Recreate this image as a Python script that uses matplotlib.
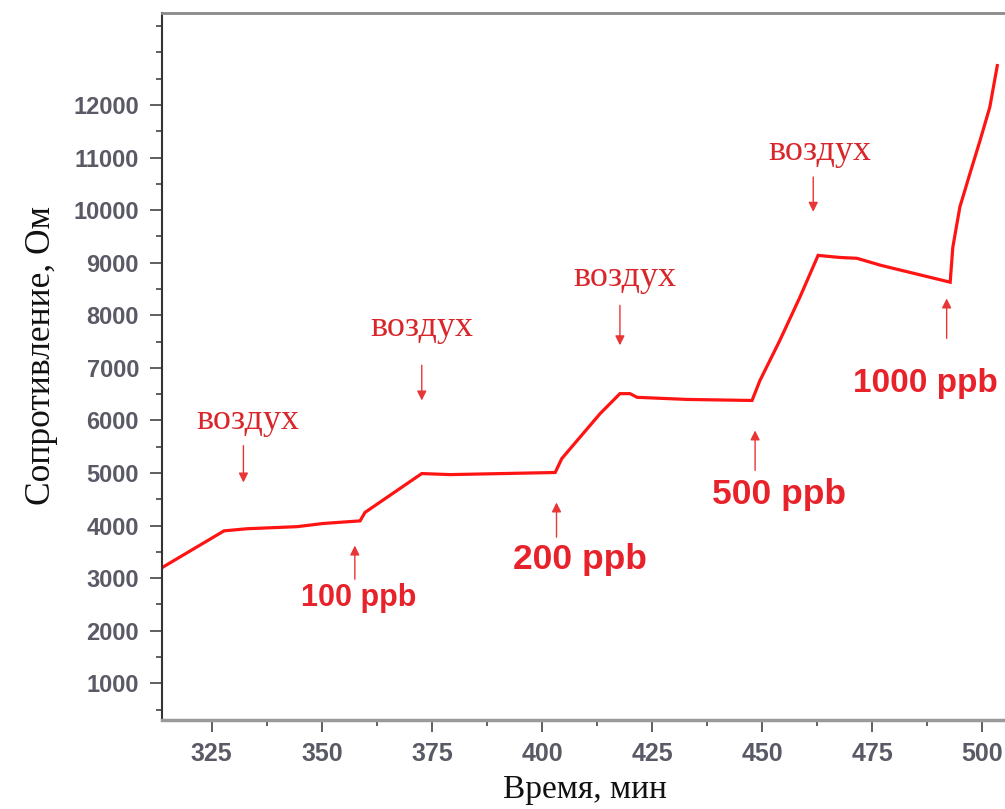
import matplotlib
matplotlib.use('Agg')
import matplotlib.pyplot as plt
from matplotlib.ticker import MultipleLocator

# кривая сопротивления (время, мин / сопротивление, Ом)
time_min = [313.7, 327.8, 333.0, 344.4, 350.3, 358.7, 359.8, 372.7, 379.1,
            403.0, 404.5, 413.2, 417.7, 420.0, 421.6, 432.9, 447.7, 449.5,
            454.0, 458.6, 462.7, 467.7, 471.5, 477.0, 492.7, 493.3, 494.9,
            497.2, 499.5, 501.7, 503.4]
resistance = [3200, 3900, 3940, 3980, 4040, 4090, 4250, 4990, 4970,
              5010, 5275, 6130, 6510, 6510, 6440, 6400, 6380, 6760,
              7520, 8350, 9140, 9100, 9085, 8950, 8630, 9295, 10060,
              10700, 11330, 11960, 12750]

# подписи "воздух": (x текста, y текста, x стрелки, хвост, остриё)
air_text = [(333.2, 6000), (372.8, 7760), (418.9, 8720), (463.2, 11120)]
air_arrows = [(332.2, 5520, 4820), (372.7, 7050, 6380), (417.7, 8190, 7430),
              (461.6, 10630, 9970)]

# подписи концентраций
ppb_labels = ['100 ppb', '200 ppb', '500 ppb', '1000 ppb']
ppb_text = [(358.4, 2630), (408.7, 3350), (453.8, 4590), (470.6, 6700)]
ppb_arrows = [(357.5, 2980, 3620), (403.3, 3780, 4440), (448.4, 5050, 5810),
              (491.9, 7560, 8320)]
ppb_sizes = [22, 25.5, 25.5, 24]

fig = plt.figure(figsize=(10.05, 8.09), dpi=100)
ax = fig.add_axes([0.1612, 0.1100, 0.8388, 0.8739])

ax.plot(time_min, resistance, color='#ff1414', lw=2.3, solid_joinstyle='miter')

for (tx, ty) in air_text:
    ax.text(tx, ty, 'воздух', color='#d9262b', fontsize=26,
            family='Liberation Serif', ha='center', va='center')
for (ax_x, y0, y1) in air_arrows + ppb_arrows:
    ax.annotate('', xy=(ax_x, y1), xytext=(ax_x, y0),
                arrowprops=dict(arrowstyle='-|>', color='#e83535', lw=1.0,
                                mutation_scale=14, shrinkA=0, shrinkB=0))
for lab, (tx, ty), fs in zip(ppb_labels, ppb_text, ppb_sizes):
    ha = 'left' if lab == '1000 ppb' else 'center'
    ax.text(tx, ty, lab, color='#e8222a', fontsize=fs, fontweight='bold',
            family='Liberation Sans', ha=ha, va='center', clip_on=False)

ax.set_xlim(313.71, 505.15)
ax.set_ylim(302, 13750)
ax.xaxis.set_major_locator(MultipleLocator(25))
ax.xaxis.set_minor_locator(MultipleLocator(12.5))
ax.yaxis.set_minor_locator(MultipleLocator(500))
ax.set_yticks([1000 * i for i in range(1, 13)])

ax.tick_params(axis='both', which='major', direction='out', length=8.5,
               width=1.2, color='#444444', labelcolor='#5a5a66')
ax.tick_params(axis='both', which='minor', direction='out', length=4,
               width=1.2, color='#444444')
ax.tick_params(axis='y', which='major', pad=8, labelsize=17)
ax.tick_params(axis='x', which='major', pad=7, labelsize=18)
for lbl in ax.get_xticklabels() + ax.get_yticklabels():
    lbl.set_fontweight('bold')
    lbl.set_family('Liberation Sans')

ax.spines['right'].set_visible(False)
ax.spines['top'].set_color('#8a8a8a')
ax.spines['top'].set_linewidth(2)
ax.spines['left'].set_color('#333333')
ax.spines['left'].set_linewidth(1.5)
ax.spines['bottom'].set_color('#9a9a9a')
ax.spines['bottom'].set_linewidth(2.5)

ax.set_xlabel('Время, мин', fontsize=24, family='Liberation Serif', color='#111111')
ax.set_ylabel('Сопротивление, Ом', fontsize=25.5, family='Liberation Serif', color='#111111')
ax.xaxis.set_label_coords(0.502, -0.077)
ax.yaxis.set_label_coords(-0.123, 0.516)

fig.savefig('out.png', dpi=100)
